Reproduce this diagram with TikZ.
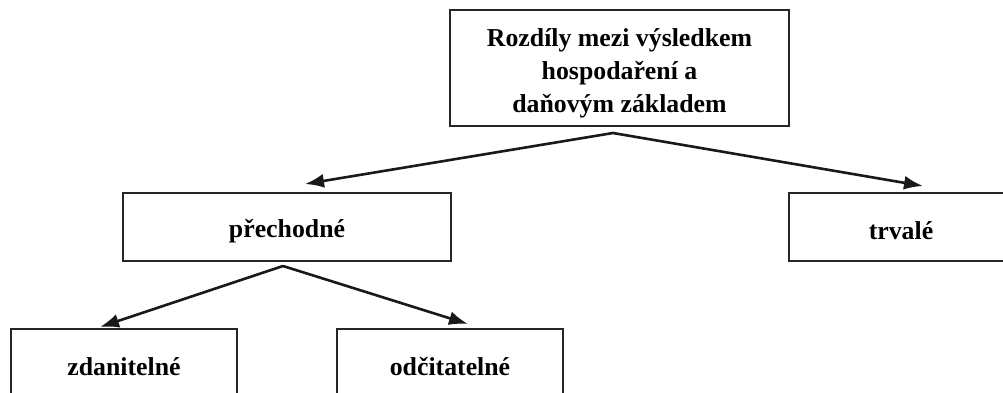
\documentclass[tikz,border=0pt]{standalone}
\usepackage{fontspec}
\setmainfont{Liberation Serif}
\usetikzlibrary{arrows.meta,calc}
\newcommand{\lowertext}[2]{\raisebox{-#1}[\height][\depth]{#2}}
\tikzset{
  box/.style={draw=black!85, line width=1.8pt, fill=none, inner sep=0pt, align=center,
    font=\fontsize{25.8}{33}\selectfont\bfseries},
  conn/.style={line width=2.6pt, black!90, -{Latex[length=19pt,width=14pt]}}
}
\begin{document}
\begin{tikzpicture}[x=1pt,y=-1pt]
\useasboundingbox (0,0) rectangle (1003,392);
\clip (0,0) rectangle (1003,392);
\node[box, minimum width=339pt, minimum height=116pt] (top) at (619.5,68)
  {\lowertext{5pt}{\begin{tabular}{@{}c@{}}Rozdíly mezi výsledkem\\hospodaření a\\daňovým základem\end{tabular}}};
\node[box, minimum width=328pt, minimum height=68pt] (prech) at (287,227) {\lowertext{4pt}{přechodné}};
\node[box, minimum width=224pt, minimum height=68pt] (trv) at (901,227) {\lowertext{4pt}{trvalé}};
\node[box, minimum width=226pt, minimum height=76pt] (zdan) at (124,367) {zdanitelné};
\node[box, minimum width=226pt, minimum height=76pt] (odc) at (450,367) {odčitatelné};
\coordinate (a1) at (613,133);
\coordinate (a2) at (283,266);
\coordinate (t1) at (305,184);
\coordinate (t2) at (923,186);
\coordinate (t3) at (100,327);
\coordinate (t4) at (468,324);
\draw[conn] (a1) -- (t1);
\draw[conn] (a1) -- (t2);
\draw[conn] (a2) -- (t3);
\draw[conn] (a2) -- (t4);
\end{tikzpicture}
\end{document}
